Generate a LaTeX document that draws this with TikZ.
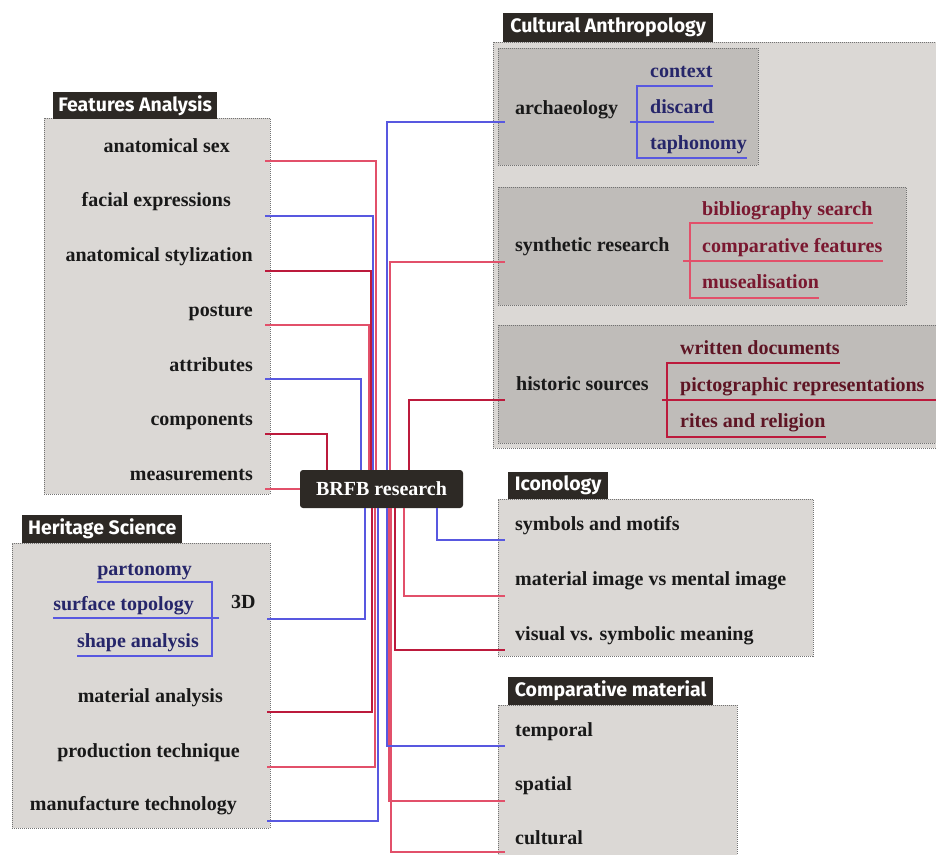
\documentclass[tikz,border=0pt]{standalone}
\usepackage{fontspec}
\setmainfont{Liberation Serif}
\newfontfamily\hdrfont{Fira Sans}
\definecolor{hdrc}{HTML}{2D2925}
\definecolor{panelc}{HTML}{DBD8D5}
\definecolor{innerc}{HTML}{BFBCB9}
\definecolor{bluec}{HTML}{5858E0}
\definecolor{pinkc}{HTML}{E2506A}
\definecolor{crimc}{HTML}{BC1A3C}
\definecolor{navyt}{HTML}{26266A}
\definecolor{crimt}{HTML}{7A1830}
\definecolor{maroont}{HTML}{5E1524}
\begin{document}
\begin{tikzpicture}[x=1pt,y=-1pt,
  txt/.style={font=\fontsize{20}{23}\selectfont\bfseries, inner sep=0pt, text=black!90},
  hdr/.style={fill=hdrc, text=white, font=\hdrfont\fontsize{19.5}{21}\selectfont\bfseries, inner sep=0pt, anchor=north west},
  panel/.style={draw=black!55, dash pattern=on 1pt off 1pt, fill=panelc, line width=0.8pt, anchor=north west, inner sep=0pt},
  inner/.style={panel, fill=innerc},
  bl/.style={draw=bluec, line width=2pt},
  pk/.style={draw=pinkc, line width=2pt},
  cr/.style={draw=crimc, line width=2.4pt},
  lw/.style={txt, anchor=base west},
  le/.style={txt, anchor=base east}
]
\useasboundingbox (0,0) rectangle (936,854);
\fill[white] (0,0) rectangle (936,854);

% ---------- panels ----------
\node[panel, minimum width=226, minimum height=376] (pFA) at (44,118) {};
\node[panel, minimum width=258, minimum height=285] (pHS) at (12,543) {};
\node[panel, minimum width=460, minimum height=406] (pCA) at (493,42) {};
\node[inner, minimum width=260, minimum height=117] (pAR) at (498,48) {};
\node[inner, minimum width=408, minimum height=118] (pSR) at (498,187) {};
\node[inner, minimum width=450, minimum height=118] (pHI) at (498,325) {};
\node[panel, minimum width=315, minimum height=157] (pIC) at (498,499) {};
\node[panel, minimum width=239, minimum height=160] (pCM) at (498,705) {};

% ---------- headers ----------
\node[hdr, minimum width=164, minimum height=27] (hFA) at (53,92) {Features Analysis};
\node[hdr, minimum width=160, minimum height=28] (hHS) at (22,515) {Heritage Science};
\node[hdr, minimum width=210, minimum height=29] (hCA) at (503,13) {Cultural Anthropology};
\node[hdr, minimum width=100, minimum height=27] (hIC) at (508,472) {Iconology};
\node[hdr, minimum width=205, minimum height=28] (hCM) at (508,677) {Comparative material};

% ---------- features analysis texts ----------
\node[le] (fa1) at (230,152) {anatomical sex};
\node[le] (fa2) at (231,206) {facial expressions};
\node[le] (fa3) at (253,261) {anatomical stylization};
\node[le] (fa4) at (253,316) {posture};
\node[le] (fa5) at (253,371) {attributes};
\node[le] (fa6) at (253,425) {components};
\node[le] (fa7) at (253,480) {measurements};

% ---------- heritage science texts ----------
\node[le, text=navyt] (hs1) at (192,575) {partonomy};
\node[le, text=navyt] (hs2) at (194,610) {surface topology};
\node[le, text=navyt] (hs3) at (199,647) {shape analysis};
\node[lw] (hs3d) at (231,608) {3D};
\node[le] (hs4) at (223,702) {material analysis};
\node[le] (hs5) at (240,757) {production technique};
\node[le] (hs6) at (237,810) {manufacture technology};

% ---------- cultural anthropology texts ----------
\node[lw] (ar) at (515,114) {archaeology};
\node[lw, text=navyt] (ar1) at (650,77) {context};
\node[lw, text=navyt] (ar2) at (650,113) {discard};
\node[lw, text=navyt] (ar3) at (650,149) {taphonomy};
\node[lw] (sr) at (515,251) {synthetic research};
\node[lw, text=crimt] (sr1) at (702,215) {bibliography search};
\node[lw, text=crimt] (sr2) at (702,252) {comparative features};
\node[lw, text=crimt] (sr3) at (702,288) {musealisation};
\node[lw] (hi) at (516,390) {historic sources};
\node[lw, text=maroont] (hi1) at (680,354) {written documents};
\node[lw, text=maroont] (hi2) at (680,391) {pictographic representations};
\node[lw, text=maroont] (hi3) at (680,427) {rites and religion};

% ---------- iconology / comparative ----------
\node[lw] (ic1) at (515,530) {symbols and motifs};
\node[lw] (ic2) at (515,585) {material image vs mental image};
\node[lw] (ic3) at (515,640) {visual vs. symbolic meaning};
\node[lw] (cm1) at (515,736) {temporal};
\node[lw] (cm2) at (515,790) {spatial};
\node[lw] (cm3) at (515,844) {cultural};

% ---------- center ----------
\node[fill=hdrc, rounded corners=3pt, minimum width=163, minimum height=38, inner sep=0pt,
      text=white, font=\fontsize{20}{23}\selectfont\bfseries] (brfb) at (381.5,489) {BRFB research};

% ---------- connector end points ----------
\coordinate (cfa1) at (265,161);
\coordinate (cfa2) at (265,216);
\coordinate (cfa3) at (265,271);
\coordinate (cfa4) at (265,325);
\coordinate (cfa5) at (265,379);
\coordinate (cfa6) at (265,434);
\coordinate (cfa7) at (265,489);
\coordinate (chs3d) at (267,619);
\coordinate (chs4) at (267,712);
\coordinate (chs5) at (267,767);
\coordinate (chs6) at (267,821);
\coordinate (car) at (505,122);
\coordinate (csr) at (505,262);
\coordinate (chi) at (505,400);
\coordinate (cic1) at (505,540);
\coordinate (cic2) at (505,596);
\coordinate (cic3) at (505,650);
\coordinate (ccm1) at (505,746);
\coordinate (ccm2) at (505,801);
\coordinate (ccm3) at (505,852);

% ---------- connectors: features analysis ----------
\draw[bl] (cfa5) -| ([xshift=-20.5]brfb.north);
\draw[cr] (cfa6) -| ([xshift=-54.5]brfb.north);
\draw[pk] (cfa4) -| ([xshift=-12.5]brfb.north);
\draw[cr] (cfa3) -| ([xshift=-10.5]brfb.north);
\draw[bl] (cfa2) -| ([xshift=-8.5]brfb.north);
\draw[pk] (cfa1) -| ([xshift=-5.5]brfb.north);
\draw[pk] (cfa7) -- (brfb.west |- cfa7);

% ---------- connectors: cultural anthropology ----------
\draw[bl] ([xshift=5.5]brfb.north) |- (car);
\draw[pk] ([xshift=8.5]brfb.north) |- (csr);
\draw[cr] ([xshift=27.5]brfb.north) |- (chi);

% ---------- connectors: heritage science ----------
\draw[bl] ([xshift=-3.5]brfb.south) |- (chs6);
\draw[pk] ([xshift=-6.5]brfb.south) |- (chs5);
\draw[cr] ([xshift=-9.5]brfb.south) |- (chs4);
\draw[bl] ([xshift=-16.5]brfb.south) |- (chs3d);

% ---------- connectors: iconology / comparative ----------
\draw[bl] ([xshift=55.5]brfb.south) |- (cic1);
\draw[pk] ([xshift=22.5]brfb.south) |- (cic2);
\draw[cr] ([xshift=13.5]brfb.south) |- (cic3);
\draw[pk] ([xshift=9.5]brfb.south) |- (ccm3);
\draw[pk] ([xshift=7.5]brfb.south) |- (ccm2);
\draw[bl] ([xshift=5.5]brfb.south) |- (ccm1);

% ---------- brackets ----------
\coordinate (ab0) at (630,122);
\coordinate (abt) at (637,86);
\coordinate (abb) at (637,158);
\draw[bl] (ab0) -- (ab0 -| ar2.east);
\draw[bl] (abt -| ar1.east) -- (abt) -- (abb) -- (abb -| ar3.east);

\coordinate (sb0) at (683,261);
\coordinate (sbt) at (690,223);
\coordinate (sbb) at (690,298);
\draw[pk] (sb0) -- (sb0 -| sr2.east);
\draw[pk] (sbt -| sr1.east) -- (sbt) -- (sbb) -- (sbb -| sr3.east);

\coordinate (hb0) at (662,400);
\coordinate (hbt) at (667,363);
\coordinate (hbb) at (667,437);
\draw[cr] (hb0) -- (hb0 -| pHI.east);
\draw[cr] (hbt -| hi1.east) -- (hbt) -- (hbb) -- (hbb -| hi3.east);

\coordinate (kb0) at (219,618);
\coordinate (kbt) at (212,582);
\coordinate (kbb) at (212,656);
\draw[bl] (kb0) -- (kb0 -| hs2.west);
\draw[bl] (kbt -| hs1.west) -- (kbt) -- (kbb) -- (kbb -| hs3.west);

\end{tikzpicture}
\end{document}
